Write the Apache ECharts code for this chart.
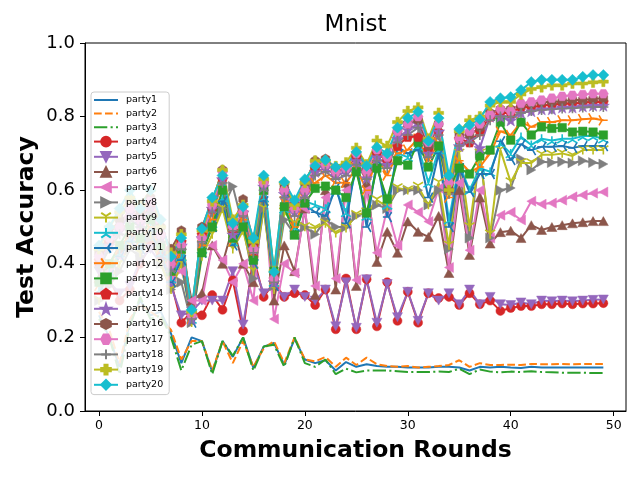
<!DOCTYPE html>
<html>
<head>
<meta charset="utf-8">
<script src="https://cdn.jsdelivr.net/npm/echarts@6/dist/echarts.min.js"></script>
<style>
html,body{margin:0;padding:0;background:#fff;}
#Mnist{width:640px;height:480px;}
</style>
</head>
<body>
<div id="Mnist"></div>
<script>
var rounds=[0,1,2,3,4,5,6,7,8,9,10,11,12,13,14,15,16,17,18,19,20,21,22,23,24,25,26,27,28,29,30,31,32,33,34,35,36,37,38,39,40,41,42,43,44,45,46,47,48,49];
var xTicks=[0,10,20,30,40,50];
var names=['party1','party2','party3','party4','party5','party6','party7','party8','party9','party10',
           'party11','party12','party13','party14','party15','party16','party17','party18','party19','party20'];

var party1=[0.26,0.20,0.12,0.24,0.30,0.26,0.27,0.21,0.13,0.20,
            0.19,0.106,0.19,0.147,0.20,0.117,0.175,0.185,0.125,0.196,
            0.14,0.13,0.138,0.11,0.133,0.12,0.127,0.122,0.12,0.12,
            0.118,0.118,0.118,0.12,0.12,0.118,0.11,0.12,0.118,0.12,
            0.118,0.117,0.12,0.118,0.118,0.118,0.118,0.118,0.118,0.118];
var party2=[0.27,0.22,0.13,0.25,0.29,0.27,0.25,0.22,0.14,0.19,
            0.19,0.11,0.19,0.13,0.19,0.12,0.17,0.19,0.13,0.20,
            0.14,0.135,0.147,0.12,0.145,0.125,0.145,0.127,0.122,0.12,
            0.122,0.118,0.12,0.122,0.125,0.138,0.12,0.13,0.125,0.125,
            0.126,0.125,0.128,0.127,0.127,0.128,0.127,0.128,0.128,0.128];
var party3=[0.25,0.20,0.10,0.23,0.31,0.25,0.26,0.20,0.11,0.18,
            0.19,0.10,0.19,0.15,0.20,0.11,0.175,0.18,0.12,0.20,
            0.13,0.12,0.14,0.10,0.115,0.105,0.11,0.11,0.11,0.108,
            0.106,0.106,0.106,0.107,0.106,0.115,0.10,0.113,0.107,0.105,
            0.107,0.106,0.108,0.106,0.105,0.104,0.104,0.104,0.103,0.103];
var party4=[0.40,0.36,0.30,0.33,0.40,0.45,0.42,0.35,0.24,0.27,
            0.26,0.315,0.275,0.355,0.218,0.42,0.31,0.35,0.31,0.32,
            0.315,0.288,0.33,0.222,0.36,0.222,0.358,0.23,0.35,0.245,
            0.324,0.24,0.32,0.307,0.31,0.288,0.32,0.29,0.30,0.272,
            0.28,0.285,0.285,0.29,0.29,0.292,0.29,0.292,0.292,0.293];
var party5=[0.38,0.35,0.32,0.34,0.41,0.44,0.40,0.34,0.26,0.27,
            0.30,0.30,0.30,0.38,0.235,0.40,0.32,0.34,0.31,0.33,
            0.31,0.30,0.33,0.23,0.35,0.226,0.358,0.24,0.345,0.255,
            0.324,0.245,0.32,0.30,0.32,0.29,0.33,0.29,0.31,0.29,
            0.288,0.295,0.29,0.30,0.298,0.30,0.298,0.30,0.302,0.303];
var party6=[0.36,0.40,0.44,0.48,0.47,0.52,0.45,0.38,0.45,0.30,
            0.32,0.45,0.40,0.50,0.40,0.35,0.58,0.30,0.45,0.38,
            0.55,0.315,0.60,0.33,0.62,0.34,0.62,0.405,0.487,0.43,
            0.515,0.487,0.473,0.53,0.375,0.60,0.424,0.58,0.455,0.486,
            0.49,0.47,0.505,0.492,0.50,0.505,0.51,0.513,0.516,0.516];
var party7=[0.35,0.38,0.42,0.46,0.50,0.55,0.45,0.36,0.38,0.30,
            0.30,0.45,0.41,0.35,0.40,0.30,0.60,0.25,0.40,0.375,
            0.55,0.34,0.58,0.36,0.60,0.356,0.60,0.43,0.55,0.45,
            0.56,0.54,0.515,0.605,0.39,0.62,0.437,0.60,0.47,0.532,
            0.54,0.519,0.57,0.562,0.565,0.573,0.582,0.587,0.592,0.595];
var party8=[0.30,0.34,0.38,0.44,0.42,0.47,0.40,0.33,0.35,0.24,
            0.45,0.50,0.55,0.61,0.50,0.36,0.55,0.34,0.52,0.48,
            0.50,0.48,0.52,0.50,0.50,0.53,0.54,0.56,0.55,0.60,
            0.60,0.60,0.56,0.60,0.44,0.66,0.47,0.70,0.47,0.60,
            0.606,0.685,0.655,0.677,0.675,0.677,0.674,0.68,0.675,0.671];
var party9=[0.30,0.35,0.40,0.45,0.43,0.48,0.40,0.33,0.40,0.24,
            0.42,0.48,0.55,0.44,0.49,0.38,0.55,0.33,0.54,0.51,
            0.50,0.497,0.51,0.483,0.497,0.533,0.54,0.573,0.555,0.606,
            0.60,0.61,0.56,0.62,0.45,0.70,0.50,0.70,0.48,0.709,
            0.622,0.674,0.674,0.696,0.696,0.70,0.693,0.709,0.709,0.709];
var party10=[0.33,0.38,0.43,0.47,0.45,0.50,0.43,0.36,0.42,0.25,
             0.44,0.51,0.58,0.46,0.51,0.42,0.58,0.35,0.55,0.50,
             0.57,0.56,0.55,0.60,0.54,0.66,0.53,0.67,0.56,0.70,
             0.69,0.72,0.62,0.71,0.52,0.67,0.60,0.66,0.65,0.728,
             0.70,0.745,0.723,0.74,0.735,0.74,0.74,0.747,0.747,0.74];
var party11=[0.32,0.37,0.42,0.46,0.44,0.49,0.42,0.35,0.41,0.24,
             0.43,0.50,0.57,0.45,0.50,0.40,0.57,0.34,0.595,0.48,
             0.56,0.54,0.53,0.61,0.51,0.68,0.50,0.68,0.527,0.718,
             0.70,0.71,0.58,0.70,0.50,0.66,0.595,0.644,0.644,0.733,
             0.682,0.725,0.709,0.718,0.718,0.72,0.715,0.72,0.72,0.72];
var party12=[0.34,0.40,0.44,0.48,0.46,0.50,0.44,0.37,0.43,0.25,
             0.45,0.52,0.60,0.46,0.52,0.42,0.60,0.36,0.57,0.50,
             0.58,0.62,0.64,0.62,0.62,0.66,0.60,0.69,0.64,0.70,
             0.71,0.74,0.68,0.73,0.58,0.68,0.65,0.663,0.70,0.76,
             0.75,0.785,0.772,0.785,0.785,0.79,0.79,0.793,0.795,0.79];
var party13=[0.35,0.40,0.45,0.50,0.47,0.52,0.45,0.38,0.44,0.26,
             0.43,0.50,0.60,0.47,0.50,0.41,0.60,0.38,0.555,0.478,
             0.565,0.605,0.611,0.60,0.58,0.65,0.538,0.66,0.576,0.68,
             0.668,0.73,0.663,0.72,0.606,0.66,0.644,0.693,0.709,0.785,
             0.736,0.785,0.75,0.772,0.768,0.77,0.758,0.76,0.758,0.75];
var party14=[0.41,0.46,0.50,0.55,0.52,0.56,0.48,0.40,0.46,0.26,
             0.48,0.55,0.63,0.49,0.54,0.45,0.62,0.36,0.60,0.55,
             0.60,0.66,0.67,0.65,0.66,0.69,0.65,0.70,0.68,0.72,
             0.745,0.745,0.71,0.76,0.62,0.74,0.73,0.76,0.80,0.81,
             0.81,0.826,0.825,0.83,0.832,0.835,0.835,0.838,0.84,0.84];
var party15=[0.40,0.45,0.49,0.54,0.51,0.55,0.47,0.39,0.45,0.25,
             0.47,0.55,0.63,0.48,0.54,0.44,0.61,0.35,0.59,0.54,
             0.59,0.65,0.66,0.64,0.65,0.68,0.633,0.69,0.67,0.74,
             0.764,0.78,0.70,0.76,0.60,0.72,0.74,0.715,0.80,0.80,
             0.79,0.81,0.815,0.82,0.82,0.825,0.825,0.828,0.83,0.83];
var party16=[0.43,0.48,0.52,0.57,0.54,0.58,0.50,0.44,0.49,0.27,
             0.50,0.57,0.655,0.50,0.575,0.46,0.63,0.37,0.61,0.56,
             0.62,0.68,0.685,0.66,0.665,0.70,0.66,0.71,0.69,0.76,
             0.78,0.79,0.72,0.78,0.60,0.75,0.75,0.77,0.81,0.82,
             0.82,0.83,0.835,0.84,0.84,0.842,0.845,0.845,0.848,0.85];
var party17=[0.42,0.47,0.50,0.55,0.52,0.57,0.48,0.40,0.45,0.26,
             0.47,0.56,0.65,0.50,0.54,0.44,0.62,0.36,0.60,0.55,
             0.60,0.67,0.67,0.65,0.66,0.70,0.65,0.71,0.69,0.76,
             0.78,0.80,0.73,0.78,0.62,0.74,0.76,0.78,0.805,0.82,
             0.815,0.836,0.84,0.845,0.85,0.855,0.858,0.86,0.862,0.862];
var party18=[0.39,0.44,0.48,0.52,0.50,0.54,0.46,0.38,0.44,0.25,
             0.46,0.54,0.62,0.49,0.53,0.43,0.60,0.35,0.58,0.53,
             0.58,0.64,0.65,0.63,0.64,0.67,0.63,0.68,0.66,0.73,
             0.75,0.77,0.69,0.75,0.59,0.72,0.73,0.75,0.79,0.80,
             0.80,0.81,0.815,0.818,0.82,0.822,0.823,0.825,0.826,0.826];
var party19=[0.44,0.50,0.54,0.58,0.56,0.60,0.50,0.43,0.48,0.27,
             0.49,0.57,0.655,0.52,0.56,0.46,0.63,0.38,0.62,0.56,
             0.62,0.68,0.68,0.665,0.675,0.715,0.67,0.735,0.72,0.785,
             0.815,0.825,0.74,0.81,0.60,0.76,0.79,0.80,0.83,0.84,
             0.84,0.86,0.875,0.88,0.885,0.885,0.89,0.89,0.893,0.895];
var party20=[0.45,0.50,0.55,0.60,0.55,0.60,0.52,0.42,0.47,0.275,
             0.495,0.58,0.64,0.51,0.555,0.47,0.64,0.378,0.622,0.573,
             0.63,0.666,0.682,0.663,0.666,0.704,0.666,0.717,0.70,0.77,
             0.796,0.813,0.734,0.796,0.64,0.766,0.777,0.793,0.84,0.85,
             0.853,0.872,0.894,0.90,0.90,0.90,0.90,0.908,0.913,0.913];

var allValues=[party1,party2,party3,party4,party5,party6,party7,party8,party9,party10,
               party11,party12,party13,party14,party15,party16,party17,party18,party19,party20];

var tab10=['#1f77b4','#ff7f0e','#2ca02c','#d62728','#9467bd','#8c564b','#e377c2','#7f7f7f','#bcbd22','#17becf'];

// matplotlib marker look-alikes
var MK={
    down:'path://M0,0L10,0L5,9Z',
    up:'path://M5,0L10,9L0,9Z',
    left:'path://M9,0L9,10L0,5Z',
    right:'path://M0,0L0,10L9,5Z',
    tri1:'path://M5,5L5,10M5,5L0.67,2.5M5,5L9.33,2.5',
    tri2:'path://M5,5L5,0M5,5L0.67,7.5M5,5L9.33,7.5',
    tri3:'path://M5,5L0,5M5,5L7.5,0.67M5,5L7.5,9.33',
    tri4:'path://M5,5L10,5M5,5L2.5,0.67M5,5L2.5,9.33',
    star:'path://M5,0L6.18,3.38L9.76,3.45L6.9,5.62L7.94,9.05L5,7L2.06,9.05L3.1,5.62L0.24,3.45L3.82,3.38Z',
    pent:'path://M5,0L9.76,3.45L7.94,9.05L2.06,9.05L0.24,3.45Z',
    hexh:'path://M5,0L9.33,2.5L9.33,7.5L5,10L0.67,7.5L0.67,2.5Z',
    hexH:'path://M0,5L2.5,0.67L7.5,0.67L10,5L7.5,9.33L2.5,9.33Z',
    plus:'path://M5,0L5,10M0,5L10,5',
    plusP:'path://M3.4,0L6.6,0L6.6,3.4L10,3.4L10,6.6L6.6,6.6L6.6,10L3.4,10L3.4,6.6L0,6.6L0,3.4L3.4,3.4Z'
};
var markers=['none','none','none','circle',MK.down,MK.up,MK.left,MK.right,MK.tri1,MK.tri2,
             MK.tri3,MK.tri4,'rect',MK.pent,MK.star,MK.hexh,MK.hexH,MK.plus,MK.plusP,'diamond'];
var markerSizes=[0,0,0,9,10,10,10,10,10,10,10,10,8.5,10,12,10,10,10,10,11];
var strokeMarker=[0,0,0,0,0,0,0,0,1,1,1,1,0,0,0,0,0,1,0,0];

function lineType(i){
    if(i==1) return [7.7,3.3];
    if(i==2) return [13.3,3.3,2.1,3.3];
    return 'solid';
}

function parseSeries(){
    var series=[];
    for(var i=0;i<allValues.length;i++){
        var color=tab10[i%10];
        var pts=[];
        for(var j=0;j<rounds.length;j++){
            pts.push([rounds[j],allValues[i][j]]);
        }
        series.push({
            name:names[i],
            type:'line',
            data:pts,
            symbol:markers[i],
            symbolSize:markerSizes[i],
            symbolKeepAspect:true,
            showSymbol:markers[i]!='none',
            showAllSymbol:true,
            color:color,
            lineStyle:{width:2,type:lineType(i),color:color},
            itemStyle:{
                color:color,
                borderColor:color,
                borderWidth:strokeMarker[i]?1.6:0.5
            },
            emphasis:{disabled:true},
            animation:false
        });
    }
    return series;
}

function legendData(){
    var items=[];
    for(var i=0;i<names.length;i++){
        if(markers[i]=='none'){
            // plain line entries: hide the default dot
            items.push({name:names[i],itemStyle:{opacity:0,borderWidth:0}});
        }else{
            items.push({name:names[i]});
        }
    }
    return items;
}

function drawMnist(){
    var myChart=echarts.init(document.getElementById('Mnist'),null,{renderer:'canvas'});
    var font='DejaVu Sans';
    var option={
        animation:false,
        textStyle:{fontFamily:font},
        grid:{
            left:85,right:14,top:43,bottom:69,
            show:true,borderColor:'#000',borderWidth:1,backgroundColor:'transparent'
        },
        legend:{
            data:legendData(),
            orient:'vertical',
            left:91,
            top:92,
            padding:[3,6,4,2],
            itemWidth:24,
            itemHeight:12,
            itemGap:3.6,
            backgroundColor:'rgba(255,255,255,0.85)',
            borderColor:'#cccccc',
            borderWidth:1,
            borderRadius:3,
            textStyle:{fontSize:9.5,color:'#000',fontFamily:font,padding:[0,0,0,3]}
        },
        xAxis:{
            type:'value',
            min:-1.36,
            max:51.2,
            axisLine:{show:true,onZero:false,lineStyle:{color:'#000',width:1}},
            axisTick:{show:true,length:5,customValues:xTicks,lineStyle:{color:'#000'}},
            axisLabel:{customValues:xTicks,fontSize:12.5,color:'#000',margin:8,fontFamily:font},
            splitLine:{show:false}
        },
        yAxis:{
            type:'value',
            min:0,
            max:1,
            interval:0.2,
            axisLine:{show:true,onZero:false,lineStyle:{color:'#000',width:1}},
            axisTick:{show:true,length:5,lineStyle:{color:'#000'}},
            axisLabel:{
                fontSize:18,color:'#000',margin:10,fontFamily:font,
                formatter:function(v){return v.toFixed(1);}
            },
            splitLine:{show:false}
        },
        graphic:[
            {type:'text',x:355.5,y:25,style:{text:'Mnist',fontSize:23,fontFamily:font,fill:'#000',
                align:'center',verticalAlign:'middle',textAlign:'center',textVerticalAlign:'middle'}},
            {type:'text',x:355.5,y:451,style:{text:'Communication Rounds',fontSize:23.5,fontWeight:'bold',fontFamily:font,fill:'#000',
                align:'center',verticalAlign:'middle',textAlign:'center',textVerticalAlign:'middle'}},
            {type:'text',x:27,y:227,rotation:Math.PI/2,style:{text:'Test Accuracy',fontSize:23.5,fontWeight:'bold',fontFamily:font,fill:'#000',
                align:'center',verticalAlign:'middle',textAlign:'center',textVerticalAlign:'middle'}}
        ],
        series:parseSeries()
    };
    myChart.setOption(option);
}

drawMnist();
</script>
</body>
</html>
